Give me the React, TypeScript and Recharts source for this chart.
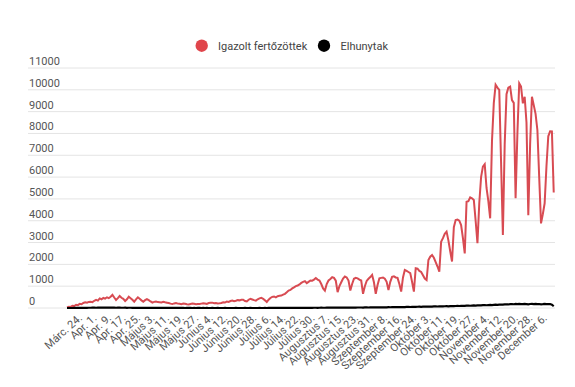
import React from "react";
import { LineChart, Line, XAxis, YAxis, CartesianGrid } from "recharts";

// Hungarian month names used in the category labels
const MONTHS = ["Márc.", "Apr.", "Május", "Június", "Július", "Augusztus", "Szeptember", "Október", "November", "December"];
const MONTH_DAYS = [31, 30, 31, 30, 31, 31, 30, 31, 30, 31];

// Daily categories: Márc. 15. – December 9. (one reporting day missing at end of September)
function buildDates(count: number): string[] {
  const out: string[] = [];
  let m = 0;
  let d = 15;
  while (out.length < count) {
    if (!(m === 6 && d === 29)) out.push(`${MONTHS[m]} ${d}.`);
    d++;
    if (d > MONTH_DAYS[m]) {
      d = 1;
      m++;
    }
  }
  return out;
}

// Igazolt fertőzöttek (daily confirmed cases)
const cases: number[] = [
  30, 60, 50, 100, 90, 150, 130, 190, 170, 230,
  260, 240, 280, 290, 270, 330, 370, 340, 440, 400,
  460, 430, 490, 450, 520, 600, 480, 370, 450, 550,
  470, 420, 320, 400, 520, 450, 380, 290, 400, 490,
  420, 350, 290, 360, 410, 360, 300, 245, 280, 300,
  270, 260, 250, 280, 260, 245, 230, 200, 180, 210,
  230, 200, 190, 170, 200, 190, 170, 160, 180, 200,
  190, 170, 180, 180, 200, 220, 210, 190, 230, 240,
  245, 220, 230, 210, 215, 230, 260, 250, 300, 280,
  320, 340, 310, 330, 360, 350, 375, 380, 320, 300,
  380, 420, 390, 360, 340, 400, 440, 470, 420, 350,
  270, 380, 460, 510, 530, 490, 540, 560, 570, 610,
  650, 720, 800, 830, 900, 950, 1000, 1030, 1080, 1150,
  1200, 1230, 1140, 1200, 1260, 1250, 1300, 1370, 1300, 1260,
  1100, 900, 800, 1100, 1260, 1330, 1410, 1380, 1250, 725,
  1000, 1180, 1350, 1440, 1400, 1260, 800, 1100, 1340, 1380,
  1360, 1300, 1260, 650, 1000, 1240, 1340, 1420, 1520, 1180,
  650, 1050, 1360, 1380, 1400, 1340, 1200, 820, 1200, 1430,
  1450, 1400, 1380, 1100, 750, 1400, 1740, 1700, 1650, 1600,
  1200, 750, 1820, 1800, 1700, 1650, 1500, 1350, 1280, 2200,
  2350, 2430, 2300, 2100, 1900, 1660, 3040, 3200, 3400, 3500,
  3100, 2600, 2130, 3700, 4030, 4050, 4000, 3800, 3200, 2500,
  4870, 4900, 5070, 5030, 4950, 4000, 2970, 4800, 6000, 6480,
  6590, 5500, 4900, 4110, 7640, 9390, 10230, 10100, 10000, 6700,
  3350, 7500, 9800, 10100, 10150, 9530, 9400, 5030, 8000, 10300,
  10150, 9380, 9680, 8500, 4250, 7500, 9680, 9300, 8900, 8160,
  6000, 3880, 4300, 4800, 6500, 7870, 8100, 8090, 5290,
];

// Elhunytak (daily deaths)
const deaths: number[] = [
  0, 0, 1, 1, 2, 3, 4, 5, 6, 8,
  9, 10, 12, 11, 13, 14, 12, 15, 14, 16,
  15, 17, 14, 13, 16, 18, 15, 12, 14, 13,
  12, 11, 13, 10, 12, 11, 9, 10, 8, 9,
  10, 8, 7, 9, 8, 6, 7, 8, 5, 6,
  5, 4, 6, 5, 4, 3, 4, 5, 3, 2,
  3, 2, 4, 3, 2, 1, 2, 3, 2, 1,
  2, 1, 3, 2, 1, 2, 1, 2, 1, 1,
  2, 1, 1, 2, 1, 0, 1, 2, 1, 1,
  0, 1, 1, 2, 1, 1, 0, 1, 2, 1,
  1, 2, 1, 1, 0, 1, 2, 1, 1, 2,
  1, 2, 3, 2, 2, 3, 4, 3, 4, 5,
  4, 5, 6, 5, 6, 7, 6, 8, 7, 8,
  9, 8, 10, 9, 11, 10, 12, 11, 10, 12,
  13, 12, 11, 14, 13, 15, 14, 16, 15, 17,
  16, 18, 17, 19, 18, 20, 17, 21, 22, 20,
  23, 22, 24, 21, 25, 26, 24, 27, 28, 26,
  29, 30, 28, 32, 34, 31, 33, 36, 35, 38,
  40, 37, 42, 39, 44, 46, 43, 48, 50, 47,
  52, 55, 51, 57, 60, 56, 62, 64, 60, 66,
  68, 65, 70, 72, 69, 75, 78, 74, 80, 83,
  79, 86, 90, 85, 92, 96, 91, 98, 102, 97,
  105, 110, 104, 112, 118, 113, 120, 125, 119, 128,
  132, 126, 135, 140, 134, 142, 150, 145, 155, 160,
  152, 165, 170, 162, 175, 180, 172, 185, 178, 190,
  182, 176, 188, 180, 170, 184, 190, 178, 186, 174,
  182, 170, 178, 188, 176, 184, 180, 150, 80,
];

const dates = buildDates(cases.length);

// Labels shown on the x axis (every 8th reporting day)
const tickLabels: string[] = [
  "Márc. 24.", "Apr. 1.", "Apr. 9.", "Apr. 17.", "Apr. 25.",
  "Május 3.", "Május 11.", "Május 19.", "Május 27.",
  "Június 4.", "Június 12.", "Június 20.", "Június 28.",
  "Július 6.", "Július 14.", "Július 22.", "Július 30.",
  "Augusztus 7.", "Augusztus 15.", "Augusztus 23.", "Augusztus 31.",
  "Szeptember 8.", "Szeptember 16.", "Szeptember 24.",
  "Október 3.", "Október 11.", "Október 19.", "Október 27.",
  "November 4.", "November 12.", "November 20.", "November 28.",
  "December 6.",
];

const yTicks: number[] = [0, 1000, 2000, 3000, 4000, 5000, 6000, 7000, 8000, 9000, 10000, 11000];

const seriesNames = ["Igazolt fertőzöttek", "Elhunytak"];
const seriesColors = ["#d84b52", "#000000"];

const data = dates.map((date, i) => ({ idx: i, date, cases: cases[i], deaths: deaths[i] }));
const tickIdx = tickLabels.map((l) => dates.indexOf(l));

const FONT = "Roboto, 'Noto Sans', Arial, sans-serif";

const XTick = (props: any) => {
  const { x, payload } = props;
  const label = dates[payload.value] ?? "";
  const tx = x - 0.5;
  const ty = 319;
  return (
    <text
      x={tx}
      y={ty}
      textAnchor="end"
      fontSize={11}
      fontFamily={FONT}
      fill="#555"
      transform={`rotate(-42, ${tx}, ${ty})`}
    >
      {label}
    </text>
  );
};

const YTick = (props: any) => {
  const { y, payload } = props;
  return (
    <text x={29} y={y - 3} textAnchor="start" fontSize={11} fontFamily={FONT} fill="#555">
      {payload.value}
    </text>
  );
};

export default function App() {
  return (
    <div style={{ position: "absolute", left: 0, top: 0, width: 575, height: 387, background: "#fff" }}>
      <LineChart
        width={575}
        height={387}
        data={data}
        margin={{ top: 68, right: 20, bottom: 0, left: 0 }}
      >
        <CartesianGrid vertical={false} stroke="#e4e4e4" strokeWidth={1} />
        <XAxis
          type="number"
          dataKey="idx"
          domain={[-21.48, 268.7]}
          ticks={tickIdx}
          interval={0}
          tick={<XTick />}
          axisLine={false}
          tickLine={false}
          height={79}
          allowDataOverflow
        />
        <YAxis
          type="number"
          domain={[0, 11000]}
          ticks={yTicks}
          width={28}
          axisLine={false}
          tickLine={false}
          tick={<YTick />}
          interval={0}
        />
        <Line
          type="linear"
          dataKey="cases"
          name={seriesNames[0]}
          stroke={seriesColors[0]}
          strokeWidth={2}
          dot={false}
          isAnimationActive={false}
        />
        <Line
          type="linear"
          dataKey="deaths"
          name={seriesNames[1]}
          stroke={seriesColors[1]}
          strokeWidth={2.2}
          dot={false}
          isAnimationActive={false}
        />
      </LineChart>
      <svg
        width={575}
        height={60}
        style={{ position: "absolute", left: 0, top: 0, pointerEvents: "none" }}
      >
        <circle cx={201.7} cy={45.7} r={6.2} fill="#e0454b" />
        <text x={218} y={50} fontSize={11} fontFamily={FONT} fill="#444">
          {seriesNames[0]}
        </text>
        <circle cx={324} cy={45.7} r={6.2} fill={seriesColors[1]} />
        <text x={340.5} y={50} fontSize={11} fontFamily={FONT} fill="#444">
          {seriesNames[1]}
        </text>
      </svg>
    </div>
  );
}
